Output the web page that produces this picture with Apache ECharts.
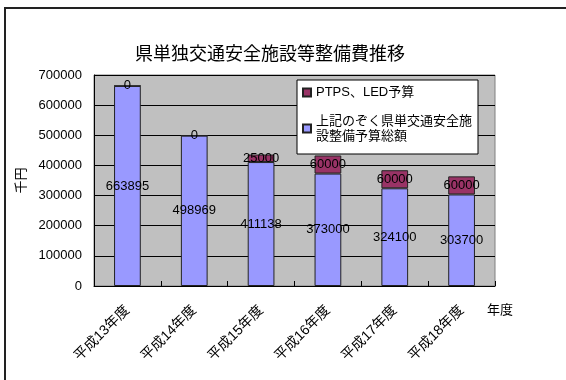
<!DOCTYPE html>
<html>
<head>
<meta charset="utf-8">
<script src="https://cdn.jsdelivr.net/npm/echarts@6/dist/echarts.min.js"></script>
<style>html,body{margin:0;padding:0;background:#fff}#c{width:566px;height:380px}</style>
</head>
<body>
<div id="c"></div>
<script>
var categories = ['平成13年度', '平成14年度', '平成15年度', '平成16年度', '平成17年度', '平成18年度'];
var baseBudget = [663895, 498969, 411138, 373000, 324100, 303700];
var ptpsLed = [0, 0, 25000, 60000, 60000, 60000];
var yTicks = [0, 100000, 200000, 300000, 400000, 500000, 600000, 700000];
var nameBase = '上記のぞく県単交通安全施設整備予算総額';
var namePtps = 'PTPS、LED予算';

var FONT = '"Liberation Sans","Noto Sans CJK JP",sans-serif';
var chart = echarts.init(document.getElementById('c'), null, {renderer: 'canvas'});
chart.setOption({
  animation: false,
  backgroundColor: '#fff',
  textStyle: {fontFamily: FONT},
  graphic: [{
    type: 'rect', z: 100, silent: true,
    shape: {x: 5, y: 8, width: 700, height: 500},
    style: {fill: null, stroke: '#222', lineWidth: 2}
  }],
  title: {
    text: '県単独交通安全施設等整備費推移',
    left: 130, top: 41,
    textStyle: {fontSize: 18, fontWeight: 'normal', color: '#000', fontFamily: FONT}
  },
  legend: {
    orient: 'vertical',
    left: 297, top: 80,
    padding: [5, 6, 3, 5],
    itemGap: 6,
    itemWidth: 8, itemHeight: 8,
    icon: 'rect',
    backgroundColor: '#fff',
    borderColor: '#000', borderWidth: 1, borderRadius: 0,
    textStyle: {fontSize: 13, color: '#000', fontFamily: FONT, lineHeight: 15},
    data: [
      {name: namePtps},
      {name: nameBase, textStyle: {padding: [15, 0, 0, 0]}}
    ],
    formatter: function (n) {
      return n === nameBase ? '上記のぞく県単交通安全施\n設整備予算総額' : n;
    }
  },
  grid: {
    left: 94, right: 71, top: 75, bottom: 94,
    show: true, backgroundColor: '#C0C0C0', borderColor: '#808080', borderWidth: 1
  },
  xAxis: {
    type: 'category',
    data: categories,
    name: '\n\n年度',
    nameLocation: 'end',
    nameGap: -8,
    nameTextStyle: {fontSize: 13, color: '#000', lineHeight: 24},
    axisLine: {lineStyle: {color: '#000', width: 1}},
    axisTick: {show: true, inside: true, length: 5, interval: 0, lineStyle: {color: '#000'}},
    axisLabel: {rotate: 45, margin: 22, fontSize: 14, color: '#000', interval: 0}
  },
  yAxis: {
    type: 'value',
    min: yTicks[0], max: yTicks[yTicks.length - 1], interval: 100000,
    name: '千円',
    nameLocation: 'middle',
    nameGap: 66,
    nameRotate: 90,
    nameTextStyle: {fontSize: 13, color: '#000'},
    axisLine: {show: true, lineStyle: {color: '#000', width: 1}},
    axisTick: {show: false},
    axisLabel: {fontSize: 13, color: '#000', margin: 12, formatter: function (v) { return String(v); }},
    splitLine: {show: true, lineStyle: {color: '#000', width: 1}}
  },
  series: [
    {
      name: nameBase, type: 'bar', stack: 'total', barWidth: '40%',
      data: baseBudget,
      itemStyle: {color: '#9999FF', borderColor: '#222', borderWidth: 1},
      label: {show: true, position: 'inside', color: '#000', fontSize: 13, fontFamily: FONT}
    },
    {
      name: namePtps, type: 'bar', stack: 'total', barWidth: '40%',
      data: ptpsLed,
      itemStyle: {color: '#993366', borderColor: '#222', borderWidth: 1},
      label: {show: true, position: 'inside', color: '#000', fontSize: 13, fontFamily: FONT}
    }
  ]
});
</script>
</body>
</html>
